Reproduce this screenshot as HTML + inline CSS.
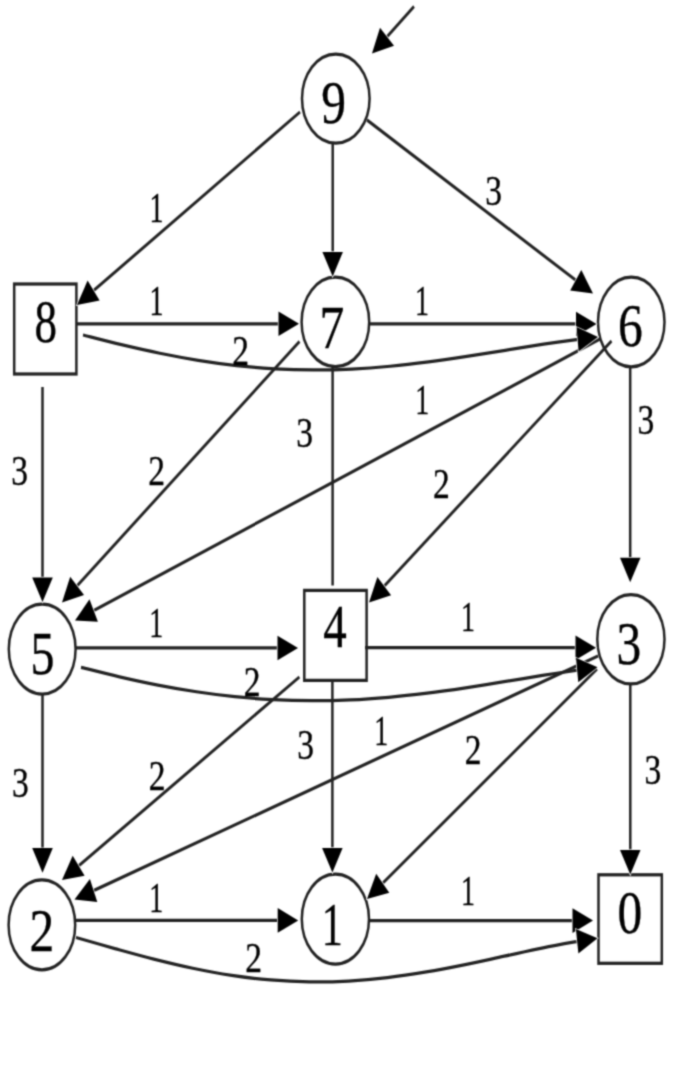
<!DOCTYPE html>
<html><head><meta charset="utf-8"><title>Graph</title>
<style>
html,body{margin:0;padding:0;background:#fff;}
body{width:674px;height:1080px;overflow:hidden;}
svg{display:block;}
.c line,.c path,.c ellipse,.c rect{stroke:#222;stroke-width:2.5;fill:none;}
.a polygon{fill:#000;stroke:#fff;stroke-width:1.4;paint-order:stroke;}
text{font-family:"Liberation Serif",serif;fill:#000;stroke:#000;stroke-width:0.3px;paint-order:fill stroke;text-anchor:start;}
text.n{font-size:50px;}
text.e{font-size:35px;}
</style></head>
<body>
<svg width="674" height="1080" viewBox="0 0 674 1080">
<rect x="0" y="0" width="674" height="1080" fill="#fff"/>
<defs><filter id="soft" x="0" y="0" width="674" height="1080" filterUnits="userSpaceOnUse" color-interpolation-filters="sRGB"><feConvolveMatrix order="5" kernelMatrix="0.00009 0.00198 0.00548 0.00198 0.00009 0.00198 0.04220 0.11707 0.04220 0.00198 0.00548 0.11707 0.32480 0.11707 0.00548 0.00198 0.04220 0.11707 0.04220 0.00198 0.00009 0.00198 0.00548 0.00198 0.00009" divisor="1" edgeMode="none" preserveAlpha="false"/></filter></defs>
<g filter="url(#soft)">
<g class="c" transform="scale(1,1.3)">
<line x1="414" y1="5.00" x2="384.8" y2="30.14"/>
<line x1="300" y1="86.15" x2="91.2" y2="225.17"/>
<line x1="332.7" y1="110.15" x2="332.7" y2="196.54"/>
<line x1="367" y1="92.31" x2="578.3" y2="217.06"/>
<line x1="77" y1="249.08" x2="281.5" y2="249.08"/>
<line x1="370" y1="249.23" x2="579.0" y2="249.23"/>
<line x1="299.5" y1="262.69" x2="74.9" y2="452.55"/>
<line x1="332.6" y1="282.00" x2="332.6" y2="450.38"/>
<line x1="332.4" y1="523.38" x2="332.4" y2="655.08"/>
<line x1="600" y1="260.77" x2="91.0" y2="470.72"/>
<line x1="611.5" y1="262.31" x2="382.0" y2="452.66"/>
<line x1="630.2" y1="282.15" x2="630.2" y2="431.77"/>
<line x1="42.5" y1="297.69" x2="42.5" y2="446.92"/>
<line x1="76" y1="498.46" x2="280.5" y2="498.46"/>
<line x1="365" y1="498.23" x2="578.5" y2="498.23"/>
<line x1="299.4" y1="520.77" x2="76.3" y2="667.55"/>
<line x1="598" y1="504.62" x2="90.8" y2="686.08"/>
<line x1="597" y1="514.62" x2="380.4" y2="681.20"/>
<line x1="630.3" y1="526.15" x2="630.3" y2="656.54"/>
<line x1="42.5" y1="533.85" x2="42.5" y2="655.15"/>
<line x1="75.5" y1="708.00" x2="280.7" y2="708.00"/>
<line x1="369.5" y1="708.15" x2="575.5" y2="708.15"/>
<path d="M83.0,257.69 C89.4,258.93 108.6,262.79 121.4,265.13 C134.2,267.46 147.0,269.72 159.8,271.72 C172.6,273.73 185.4,275.57 198.2,277.15 C210.9,278.73 223.7,280.09 236.5,281.18 C249.3,282.26 262.1,283.10 274.9,283.66 C287.7,284.22 300.5,284.50 313.3,284.53 C326.1,284.57 338.9,284.32 351.7,283.85 C364.5,283.38 377.3,282.64 390.1,281.73 C402.9,280.83 415.7,279.67 428.5,278.41 C441.3,277.15 454.1,275.67 466.8,274.18 C479.6,272.69 492.4,271.04 505.2,269.47 C518.0,267.89 530.8,266.23 543.6,264.75 C556.4,263.28 575.6,261.32 582.0,260.63"/>
<path d="M81.0,513.32 C87.4,514.54 106.6,518.34 119.5,520.61 C132.3,522.88 145.1,525.04 157.9,526.96 C170.7,528.87 183.6,530.62 196.4,532.11 C209.2,533.61 222.0,534.89 234.8,535.90 C247.7,536.92 260.5,537.70 273.3,538.22 C286.1,538.74 298.9,539.00 311.8,539.03 C324.6,539.05 337.4,538.82 350.2,538.37 C363.1,537.93 375.9,537.22 388.7,536.36 C401.5,535.49 414.3,534.39 427.2,533.18 C440.0,531.96 452.8,530.54 465.6,529.08 C478.4,527.62 491.3,526.00 504.1,524.41 C516.9,522.83 529.7,521.13 542.5,519.57 C555.4,518.00 574.6,515.78 581.0,515.03"/>
<path d="M76.0,721.15 C82.5,722.57 101.9,726.91 114.9,729.68 C127.9,732.45 140.9,735.26 153.8,737.78 C166.8,740.30 179.8,742.73 192.8,744.81 C205.7,746.89 218.7,748.77 231.7,750.27 C244.7,751.78 257.6,753.00 270.6,753.84 C283.6,754.68 296.6,755.18 309.5,755.32 C322.5,755.46 335.5,755.22 348.5,754.68 C361.4,754.13 374.4,753.20 387.4,752.03 C400.4,750.86 413.3,749.34 426.3,747.66 C439.3,745.98 452.3,743.99 465.2,741.97 C478.2,739.96 491.2,737.69 504.2,735.55 C517.1,733.41 530.1,731.12 543.1,729.12 C556.1,727.12 575.5,724.48 582.0,723.55"/>
<ellipse cx="335.80" cy="75.85" rx="33.80" ry="34.31"/>
<rect x="14.2" y="218.46" width="62.20" height="69.23"/>
<ellipse cx="335.40" cy="247.62" rx="33.80" ry="34.38"/>
<ellipse cx="631.25" cy="247.69" rx="33.25" ry="34.46"/>
<ellipse cx="42.20" cy="499.31" rx="33.40" ry="34.54"/>
<rect x="304.3" y="454.15" width="62.30" height="69.23"/>
<ellipse cx="630.90" cy="491.77" rx="33.60" ry="34.38"/>
<ellipse cx="41.90" cy="711.50" rx="33.30" ry="34.58"/>
<ellipse cx="335.40" cy="707.00" rx="33.60" ry="34.54"/>
<rect x="598.5" y="672.92" width="63.30" height="68.08"/>
</g>
<g class="a">
<polygon points="372.0,53.5 380.0,27.7 394.0,45.7"/>
<polygon points="77.0,305.0 87.6,280.6 99.6,300.6"/>
<polygon points="332.7,276.5 322.4,251.9 342.9,251.9"/>
<polygon points="593.0,293.5 570.2,290.6 581.3,269.9"/>
<polygon points="299.0,323.8 278.5,336.1 278.5,311.5"/>
<polygon points="596.5,324.0 576.0,336.3 576.0,311.7"/>
<polygon points="62.0,602.5 70.2,576.8 84.0,595.0"/>
<polygon points="332.4,872.6 322.1,848.0 342.6,848.0"/>
<polygon points="75.0,620.5 89.5,599.2 97.9,621.7"/>
<polygon points="369.0,602.5 377.4,576.9 391.1,595.2"/>
<polygon points="630.2,582.3 620.0,557.7 640.5,557.7"/>
<polygon points="42.5,602.0 32.2,577.4 52.8,577.4"/>
<polygon points="298.0,648.0 277.5,660.3 277.5,635.7"/>
<polygon points="596.0,647.7 575.5,660.0 575.5,635.4"/>
<polygon points="62.0,880.0 72.7,855.7 84.6,875.7"/>
<polygon points="74.5,899.5 89.9,879.1 97.3,902.1"/>
<polygon points="367.0,899.0 376.2,873.8 389.3,892.7"/>
<polygon points="630.3,874.5 620.0,849.9 640.5,849.9"/>
<polygon points="42.5,872.7 32.2,848.1 52.8,848.1"/>
<polygon points="298.2,920.4 277.7,932.7 277.7,908.1"/>
<polygon points="593.0,920.6 572.5,932.9 572.5,908.3"/>
<polygon points="598.0,337.0 578.6,351.6 576.6,327.1"/>
<polygon points="597.5,667.3 578.3,682.3 576.0,657.8"/>
<polygon points="597.5,938.3 578.4,953.5 575.9,929.1"/>
</g>
<g class="t">
<text class="n" transform="translate(321.34,122.73) scale(0.99,1.21)">9</text>
<text class="n" transform="translate(34.55,341.82) scale(0.9,1.21)">8</text>
<text class="n" transform="translate(319.41,348.01) scale(0.99,1.21)">7</text>
<text class="n" transform="translate(618.00,346.03) scale(0.99,1.21)">6</text>
<text class="n" transform="translate(30.54,673.51) scale(0.96,1.21)">5</text>
<text class="n" transform="translate(323.36,647.21) scale(0.94,1.21)">4</text>
<text class="n" transform="translate(616.41,663.53) scale(0.99,1.21)">3</text>
<text class="n" transform="translate(29.60,950.63) scale(0.99,1.21)">2</text>
<text class="n" transform="translate(321.72,944.57) scale(0.84,1.21)">1</text>
<text class="n" transform="translate(617.62,932.52) scale(0.99,1.21)">0</text>
<text class="e" transform="translate(149.61,221.75) scale(0.8,1.19)">1</text>
<text class="e" transform="translate(485.25,204.59) scale(0.96,1.19)">3</text>
<text class="e" transform="translate(149.61,315.25) scale(0.8,1.19)">1</text>
<text class="e" transform="translate(232.29,364.79) scale(0.96,1.19)">2</text>
<text class="e" transform="translate(414.91,314.75) scale(0.8,1.19)">1</text>
<text class="e" transform="translate(11.25,484.59) scale(0.96,1.19)">3</text>
<text class="e" transform="translate(148.29,484.79) scale(0.96,1.19)">2</text>
<text class="e" transform="translate(296.25,447.19) scale(0.96,1.19)">3</text>
<text class="e" transform="translate(415.31,414.25) scale(0.8,1.19)">1</text>
<text class="e" transform="translate(433.09,498.29) scale(0.96,1.19)">2</text>
<text class="e" transform="translate(637.45,433.59) scale(0.96,1.19)">3</text>
<text class="e" transform="translate(149.31,636.75) scale(0.8,1.19)">1</text>
<text class="e" transform="translate(243.79,695.79) scale(0.96,1.19)">2</text>
<text class="e" transform="translate(460.91,630.75) scale(0.8,1.19)">1</text>
<text class="e" transform="translate(11.95,796.89) scale(0.96,1.19)">3</text>
<text class="e" transform="translate(148.79,790.29) scale(0.96,1.19)">2</text>
<text class="e" transform="translate(297.15,758.89) scale(0.96,1.19)">3</text>
<text class="e" transform="translate(374.31,744.75) scale(0.8,1.19)">1</text>
<text class="e" transform="translate(464.79,764.09) scale(0.96,1.19)">2</text>
<text class="e" transform="translate(644.45,783.59) scale(0.96,1.19)">3</text>
<text class="e" transform="translate(149.31,911.75) scale(0.8,1.19)">1</text>
<text class="e" transform="translate(245.29,971.59) scale(0.96,1.19)">2</text>
<text class="e" transform="translate(460.91,905.25) scale(0.8,1.19)">1</text>
</g>
</g>
</svg>
</body></html>
